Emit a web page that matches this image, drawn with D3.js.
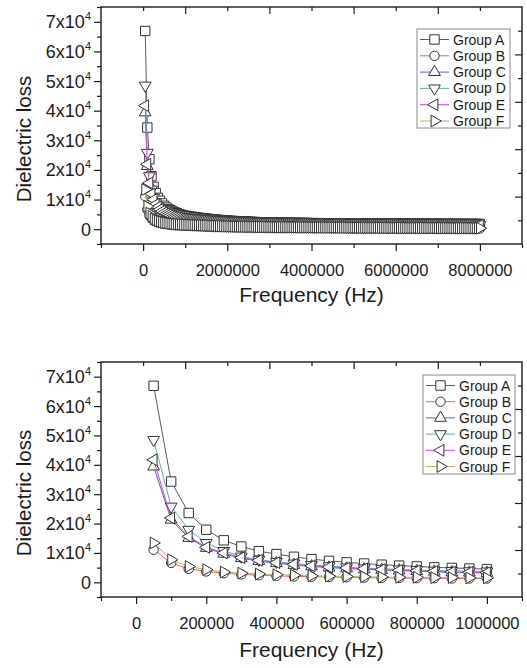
<!DOCTYPE html>
<html><head><meta charset="utf-8">
<script src="https://cdn.jsdelivr.net/npm/d3@7"></script>
<style>
body{margin:0;background:#fff}
svg{display:block}
text{font-family:"Liberation Sans",Arial,sans-serif;fill:#1c1c1c}
</style>
</head><body>
<svg id="c" width="527" height="668"></svg>
<script>
// ---------- DATA ----------
const frequency = [
50000,100000,150000,200000,250000,300000,350000,400000,450000,500000,550000,600000,650000,700000,750000,800000,850000,900000,950000,1000000,
1050000,1100000,1150000,1200000,1250000,1300000,1350000,1400000,1450000,1500000,1550000,1600000,1650000,1700000,1750000,1800000,1850000,1900000,1950000,2000000,
2050000,2100000,2150000,2200000,2250000,2300000,2350000,2400000,2450000,2500000,2550000,2600000,2650000,2700000,2750000,2800000,2850000,2900000,2950000,3000000,
3050000,3100000,3150000,3200000,3250000,3300000,3350000,3400000,3450000,3500000,3550000,3600000,3650000,3700000,3750000,3800000,3850000,3900000,3950000,4000000,
4050000,4100000,4150000,4200000,4250000,4300000,4350000,4400000,4450000,4500000,4550000,4600000,4650000,4700000,4750000,4800000,4850000,4900000,4950000,5000000,
5050000,5100000,5150000,5200000,5250000,5300000,5350000,5400000,5450000,5500000,5550000,5600000,5650000,5700000,5750000,5800000,5850000,5900000,5950000,6000000,
6050000,6100000,6150000,6200000,6250000,6300000,6350000,6400000,6450000,6500000,6550000,6600000,6650000,6700000,6750000,6800000,6850000,6900000,6950000,7000000,
7050000,7100000,7150000,7200000,7250000,7300000,7350000,7400000,7450000,7500000,7550000,7600000,7650000,7700000,7750000,7800000,7850000,7900000,7950000,8000000];

const groupA = [
66900,34300,23600,17900,14300,12200,10600,9600,8700,7900,7300,6800,6400,6000,5700,5400,5100,4900,4700,4500,
4400,4300,4200,4100,4000,3900,3810,3720,3640,3560,3480,3400,3330,3260,3190,3120,3060,3000,2940,2880,
2840,2800,2760,2720,2680,2640,2600,2570,2540,2510,2480,2450,2420,2390,2360,2340,2320,2300,2280,2260,
2240,2230,2220,2210,2200,2190,2180,2170,2160,2150,2140,2130,2120,2110,2100,2090,2080,2070,2060,2050,
2040,2040,2030,2030,2020,2020,2010,2010,2000,2000,1990,1990,1980,1980,1970,1970,1960,1960,1950,1950,
1950,1940,1940,1930,1930,1920,1920,1910,1910,1900,1900,1900,1890,1890,1880,1880,1880,1870,1870,1860,
1860,1860,1850,1850,1850,1840,1840,1840,1830,1830,1830,1820,1820,1820,1810,1810,1810,1800,1800,1800,
1800,1790,1790,1790,1790,1780,1780,1780,1780,1770,1770,1770,1770,1760,1760,1760,1760,1750,1750,1750];

const groupB = [
11100,6600,4600,3700,3100,2700,2400,2200,2000,1900,1800,1700,1600,1500,1500,1400,1400,1300,1300,1300,
1270,1240,1210,1180,1150,1120,1090,1060,1030,1000,980,960,940,920,900,880,860,840,820,800,
785,770,755,740,725,710,700,690,680,670,660,650,640,630,620,610,600,595,590,585,
580,575,570,565,560,555,550,545,540,535,530,525,520,515,510,505,500,495,490,485,
480,480,470,470,460,460,450,450,440,440,430,430,420,420,410,410,400,400,390,390,
385,385,380,380,375,375,370,370,365,365,360,360,355,355,350,350,345,345,340,340,
335,335,330,330,325,325,320,320,315,315,310,310,305,305,300,300,295,295,290,290,
285,285,280,280,275,275,270,270,265,265,260,260,255,255,250,250,245,245,240,240];

const groupC = [
39400,21300,15100,11700,9700,8200,7200,6500,5900,5400,5000,4700,4400,4200,4000,3800,3600,3400,3300,3200,
3130,3060,2990,2920,2850,2790,2730,2670,2610,2560,2510,2460,2410,2360,2320,2280,2240,2200,2160,2120,
2090,2060,2030,2000,1970,1940,1910,1890,1870,1850,1830,1810,1790,1770,1750,1730,1710,1700,1690,1680,
1670,1660,1650,1640,1630,1620,1610,1600,1590,1580,1570,1560,1550,1540,1530,1520,1510,1500,1490,1480,
1480,1470,1470,1460,1460,1450,1450,1440,1440,1430,1430,1420,1420,1410,1410,1400,1400,1390,1390,1380,
1380,1370,1370,1370,1360,1360,1360,1350,1350,1350,1340,1340,1340,1330,1330,1330,1320,1320,1320,1310,
1310,1310,1300,1300,1300,1300,1290,1290,1290,1290,1280,1280,1280,1280,1270,1270,1270,1270,1260,1260,
1260,1260,1250,1250,1250,1250,1240,1240,1240,1240,1230,1230,1230,1230,1220,1220,1220,1220,1210,1210];

const groupD = [
48500,25800,17900,13400,10700,8800,7700,7000,6400,5900,5500,5100,4800,4600,4400,4200,4000,3900,3800,3700,
3620,3540,3460,3380,3300,3230,3160,3090,3020,2960,2900,2840,2780,2720,2670,2620,2570,2520,2470,2430,
2390,2350,2310,2270,2240,2210,2180,2150,2120,2090,2060,2040,2020,2000,1980,1960,1940,1920,1900,1880,
1870,1860,1850,1840,1830,1820,1810,1800,1790,1780,1770,1760,1750,1740,1730,1720,1710,1700,1690,1680,
1680,1670,1670,1660,1660,1650,1650,1640,1640,1630,1630,1620,1620,1610,1610,1600,1600,1590,1590,1580,
1580,1570,1570,1570,1560,1560,1560,1550,1550,1550,1540,1540,1540,1530,1530,1530,1520,1520,1520,1510,
1510,1510,1500,1500,1500,1500,1490,1490,1490,1490,1480,1480,1480,1480,1470,1470,1470,1470,1460,1460,
1460,1460,1450,1450,1450,1450,1440,1440,1440,1440,1430,1430,1430,1430,1420,1420,1420,1420,1410,1410];

const groupE = [
41700,21900,15600,11900,10000,8400,7500,6700,6100,5600,5200,4900,4600,4300,4100,3900,3700,3500,3400,3300,
3220,3150,3080,3010,2940,2880,2820,2760,2700,2650,2600,2550,2500,2450,2410,2370,2330,2290,2250,2210,
2180,2150,2120,2090,2060,2030,2000,1980,1960,1940,1920,1900,1880,1860,1840,1820,1800,1790,1780,1770,
1760,1750,1740,1730,1720,1710,1700,1690,1680,1670,1660,1650,1640,1630,1620,1610,1600,1590,1580,1570,
1570,1560,1560,1550,1550,1540,1540,1530,1530,1520,1520,1510,1510,1500,1500,1490,1490,1480,1480,1470,
1470,1460,1460,1460,1450,1450,1450,1440,1440,1440,1430,1430,1430,1420,1420,1420,1410,1410,1410,1400,
1400,1400,1390,1390,1390,1390,1380,1380,1380,1380,1370,1370,1370,1370,1360,1360,1360,1360,1350,1350,
1350,1350,1340,1340,1340,1340,1330,1330,1330,1330,1320,1320,1320,1320,1310,1310,1310,1310,1300,1300];

const groupF = [
13400,7700,5400,4300,3500,3100,2800,2600,2400,2200,2100,2000,1900,1800,1700,1700,1600,1600,1500,1500,
1470,1440,1410,1380,1350,1320,1290,1260,1230,1200,1170,1140,1110,1080,1060,1040,1020,1000,980,960,
940,920,900,880,860,850,840,830,820,810,800,790,780,770,760,750,740,730,720,710,
700,695,690,685,680,675,670,665,660,655,650,645,640,635,630,625,620,615,610,605,
600,600,590,590,580,580,570,570,560,560,550,550,540,540,530,530,520,520,510,510,
500,500,500,490,490,490,480,480,480,470,470,470,460,460,460,450,450,450,440,440,
440,440,430,430,430,430,420,420,420,420,410,410,410,410,400,400,400,400,390,390,
390,390,380,380,380,380,370,370,370,370,360,360,360,360,350,350,350,350,340,340];

const groupNames = ["Group A","Group B","Group C","Group D","Group E","Group F"];
const groupValues = [groupA, groupB, groupC, groupD, groupE, groupF];
const groupColors = ["#5c5c5c","#d9705a","#6a5acd","#5fb0a6","#c24fc8","#b8b46a"];
const groupSymbols = ["square","circle","up","down","left","right"];

const yTickValues = [0,10000,20000,30000,40000,50000,60000,70000];
const yTickMantissa = ["0","1","2","3","4","5","6","7"];
const topXTicks = [0,2000000,4000000,6000000,8000000];
const topXMinor = [-1000000,1000000,3000000,5000000,7000000,9000000];
const botXTicks = [0,200000,400000,600000,800000,1000000];
const botXMinor = [-100000,100000,300000,500000,700000,900000,1100000];

// ---------- DRAWING ----------
const svg = d3.select("#c");

function symbolPath(kind){
  if(kind==="square") return d3.symbol(d3.symbolSquare, 88)();
  if(kind==="circle") return d3.symbol(d3.symbolCircle, 70)();
  return d3.symbol(d3.symbolTriangle, 60)();
}
const symRot = {square:0, circle:0, up:0, down:180, left:-90, right:90};

function drawChart(cfg){
  const g = svg.append("g");
  const x = d3.scaleLinear().domain(cfg.xDomain).range([cfg.left, cfg.right]);
  const y = d3.scaleLinear().domain([-5000, 75000]).range([cfg.bottom, cfg.top]);
  const n = cfg.n;

  groupNames.forEach((name, i) => {
    const pts = frequency.slice(0, n).map((f, k) => [f, groupValues[i][k]]);
    g.append("path")
      .attr("d", d3.line().x(d => x(d[0])).y(d => y(d[1]))(pts))
      .attr("fill", "none").attr("stroke", groupColors[i]).attr("stroke-width", 1);
    g.selectAll(null).data(pts).enter().append("path")
      .attr("d", symbolPath(groupSymbols[i]))
      .attr("transform", d => `translate(${x(d[0])},${y(d[1])}) rotate(${symRot[groupSymbols[i]]})`)
      .attr("fill", "#fff").attr("stroke", "#333").attr("stroke-width", 1);
  });

  g.append("rect").attr("x", cfg.left).attr("y", cfg.top)
    .attr("width", cfg.right - cfg.left).attr("height", cfg.bottom - cfg.top)
    .attr("fill", "none").attr("stroke", "#1c1c1c").attr("stroke-width", 1.4);

  const bx = g.append("g").attr("transform", `translate(0,${cfg.bottom})`)
    .call(d3.axisBottom(x).tickValues(cfg.xTicks).tickSize(7).tickPadding(13).tickFormat(d3.format("d")));
  g.append("g").attr("transform", `translate(0,${cfg.bottom})`)
    .call(d3.axisBottom(x).tickValues(cfg.xMinor.filter(v => v >= cfg.xDomain[0] && v <= cfg.xDomain[1])).tickSize(4).tickFormat(""));
  g.append("g").attr("transform", `translate(${cfg.left},0)`)
    .call(d3.axisLeft(y).tickValues(yTickValues).tickSize(7).tickFormat(""));
  g.append("g").attr("transform", `translate(${cfg.left},0)`)
    .call(d3.axisLeft(y).tickValues(yTickValues.map(v => v + 5000).concat([-5000])).tickSize(4).tickFormat(""));
  g.selectAll(".domain").remove();
  g.selectAll(".tick line").attr("stroke", "#1c1c1c").attr("stroke-width", 1.2);
  bx.selectAll(".tick text").attr("font-size", 16.5).attr("fill", "#1c1c1c")
    .style("font-family", '"Liberation Sans",Arial,sans-serif');

  yTickValues.forEach((v, i) => {
    const t = g.append("text").attr("x", cfg.left - 10).attr("y", y(v) + 6.5)
      .attr("text-anchor", "end").attr("font-size", 18);
    if (v === 0) { t.text("0"); }
    else {
      t.append("tspan").text(yTickMantissa[i] + "x10");
      t.append("tspan").attr("font-size", 11).attr("dy", -8).text("4");
    }
  });

  const tx = d3.scaleLinear().domain([0, 1]).range([cfg.left, cfg.right]);
  const ty = d3.scaleLinear().domain([0, 1]).range([cfg.top, cfg.bottom]);
  const tg = g.append("g");
  tg.append("g").attr("transform", `translate(0,${cfg.top})`)
    .call(d3.axisTop(tx).tickValues([0.2,0.4,0.6,0.8]).tickSize(-7).tickFormat(""));
  tg.append("g").attr("transform", `translate(0,${cfg.top})`)
    .call(d3.axisTop(tx).tickValues([0.1,0.3,0.5,0.7,0.9]).tickSize(-4).tickFormat(""));
  tg.append("g").attr("transform", `translate(${cfg.right},0)`)
    .call(d3.axisRight(ty).tickValues([0.2,0.4,0.6,0.8]).tickSize(-7).tickFormat(""));
  tg.append("g").attr("transform", `translate(${cfg.right},0)`)
    .call(d3.axisRight(ty).tickValues([0.1,0.3,0.5,0.7,0.9]).tickSize(-4).tickFormat(""));
  tg.selectAll(".domain").remove();
  tg.selectAll(".tick line").attr("stroke", "#1c1c1c").attr("stroke-width", 1.2);

  g.append("text").attr("x", (cfg.left + cfg.right) / 2).attr("y", cfg.xTitleY)
    .attr("text-anchor", "middle").attr("font-size", 21).text("Frequency (Hz)");
  g.append("text").attr("transform", `translate(31,${cfg.yTitleCY}) rotate(-90)`)
    .attr("text-anchor", "middle").attr("font-size", 20.5).text("Dielectric loss");

  const L = cfg.legend;
  g.append("rect").attr("x", L.x).attr("y", L.y).attr("width", L.w).attr("height", L.h)
    .attr("fill", "#fff").attr("stroke", "#8a8a8a").attr("stroke-width", 1);
  groupNames.forEach((name, i) => {
    const cy = L.y + 10.5 + i * L.step;
    g.append("line").attr("x1", L.x + 3).attr("x2", L.x + 32).attr("y1", cy).attr("y2", cy)
      .attr("stroke", groupColors[i]).attr("stroke-width", 1);
    g.append("path").attr("d", symbolPath(groupSymbols[i]))
      .attr("transform", `translate(${L.x + 17.5},${cy}) rotate(${symRot[groupSymbols[i]]})`)
      .attr("fill", "#fff").attr("stroke", "#333").attr("stroke-width", 1);
    g.append("text").attr("x", L.x + 36).attr("y", cy + 5).attr("font-size", 14).text(name);
  });
}

drawChart({left:101, right:522, top:7, bottom:244, xDomain:[-1000000, 9000000],
  xTicks: topXTicks, xMinor: topXMinor, n: 160, xTitleY: 302, yTitleCY: 139,
  legend:{x:417, y:29, w:93, h:99, step:16.3}});
drawChart({left:101, right:522, top:362, bottom:597, xDomain:[-100000, 1100000],
  xTicks: botXTicks, xMinor: botXMinor, n: 20, xTitleY: 657, yTitleCY: 493,
  legend:{x:423, y:375, w:92, h:99, step:16.2}});
</script>
</body></html>
